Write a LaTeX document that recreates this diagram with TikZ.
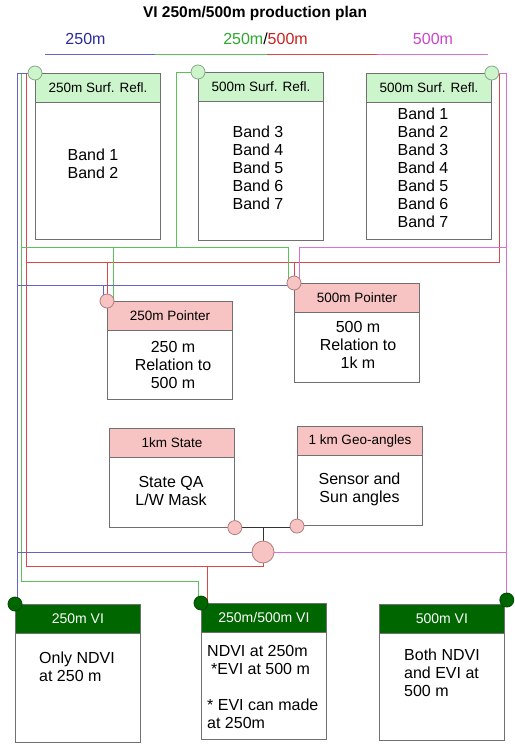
\documentclass[tikz,border=0pt]{standalone}
\usepackage{fontspec}
\setmainfont{Liberation Sans}
\usetikzlibrary{positioning}
\usetikzlibrary{backgrounds}
\definecolor{srfgreen}{HTML}{CCF5CC}
\definecolor{ptrpink}{HTML}{F8C3C3}
\definecolor{vigreen}{HTML}{006600}
\definecolor{boxgray}{HTML}{707070}
\definecolor{ringgreen}{HTML}{8AA88A}
\definecolor{ringpink}{HTML}{B07E7E}
\definecolor{tblue}{HTML}{2A2AA0}
\definecolor{tgreen}{HTML}{2EA82E}
\definecolor{tred}{HTML}{CC2020}
\definecolor{tmag}{HTML}{CC44CC}
\definecolor{lblue}{HTML}{6464C8}
\definecolor{lgreen}{HTML}{5CC05C}
\definecolor{lred}{HTML}{D84848}
\definecolor{lmag}{HTML}{D870D8}

\begin{document}
\begin{tikzpicture}[x=1pt, y=-1pt,
    hdr/.style={draw=boxgray, line width=0.8pt, anchor=north west, minimum width=125pt,
      minimum height=28.5pt, inner sep=0pt, font=\fontsize{13.5}{15}\selectfont},
    srfhdr/.style={hdr, fill=srfgreen},
    ptrhdr/.style={hdr, fill=ptrpink},
    vihdr/.style={hdr, fill=vigreen, text=white, font=\fontsize{14}{15}\selectfont},
    boxbody/.style={draw=boxgray, line width=0.8pt, minimum width=125pt, inner sep=0pt},
    bodytxt/.style={align=center, inner sep=0pt, anchor=north, font=\fontsize{16}{18}\selectfont},
    vitxt/.style={bodytxt, align=left, anchor=north west},
    legend/.style={anchor=base, inner sep=0pt, font=\fontsize{16}{18}\selectfont},
    joint/.style={circle, minimum size=14pt, inner sep=0pt, line width=0.8pt},
    srfjoint/.style={joint, fill=srfgreen, draw=ringgreen},
    ptrjoint/.style={joint, fill=ptrpink, draw=ringpink},
    vijoint/.style={joint, fill=vigreen, draw=vigreen!70!black},
    lnblue/.style={draw=lblue, line width=1pt},
    lngreen/.style={draw=lgreen, line width=1pt},
    lnred/.style={draw=lred, line width=1pt},
    lnmag/.style={draw=lmag, line width=1pt},
    lnblack/.style={draw=black!80, line width=1pt}]
      \useasboundingbox (0,0) rectangle (514,744);
      % title and legend
      \node[font=\bfseries\fontsize{15.5}{17}\selectfont, anchor=base] (title) at (255,17) {VI 250m/500m production plan};
      \node[legend, text=tblue] (lg250) at (85.5,44) {250m};
      \node[legend] (lgboth) at (265.5,44) {\textcolor{tgreen}{250m}/\textcolor{tred}{500m}};
      \node[legend, text=tmag] (lg500) at (433,44) {500m};
      \draw[lnblue] (45,54) -- (155,54);
      \draw[lngreen] (155,54) -- (267,54);
      \draw[lnred] (267,54) -- (377,54);
      \draw[lnmag] (377,54) -- (488,54);
      % surface reflectance
      \node[srfhdr] (srf1h) at (35,73) {250m Surf. Refl.};
      \node[boxbody, minimum height=137pt, below=0pt of srf1h] (srf1) {};
      \node[bodytxt] (srf1t) at (93,148.5) {Band 1\\Band 2};
      \node[srfhdr] (srf2h) at (198,72) {500m Surf. Refl.};
      \node[boxbody, minimum height=139pt, below=0pt of srf2h] (srf2) {};
      \node[bodytxt] (srf2t) at (258,125.5) {Band 3\\Band 4\\Band 5\\Band 6\\Band 7};
      \node[srfhdr] (srf3h) at (366,73) {500m Surf. Refl.};
      \node[boxbody, minimum height=137pt, below=0pt of srf3h] (srf3) {};
      \node[bodytxt] (srf3t) at (423,107.5) {Band 1\\Band 2\\Band 3\\Band 4\\Band 5\\Band 6\\Band 7};
      % pointers
      \node[ptrhdr] (ptr1h) at (107,301) {250m Pointer};
      \node[boxbody, minimum height=69pt, below=0pt of ptr1h] (ptr1) {};
      \node[bodytxt] (ptr1t) at (173,341.5) {250 m\\Relation to\\500 m};
      \node[ptrhdr] (ptr2h) at (294,283) {500m Pointer};
      \node[boxbody, minimum height=70pt, below=0pt of ptr2h] (ptr2) {};
      \node[bodytxt] (ptr2t) at (358,321.5) {500 m\\Relation to\\1k m};
      % 1 km inputs
      \node[ptrhdr] (stateh) at (109,428) {1km State};
      \node[boxbody, minimum height=69.5pt, below=0pt of stateh] (state) {};
      \node[bodytxt] (statet) at (171,476.5) {State QA\\L/W Mask};
      \node[ptrhdr] (geoh) at (297,426) {1 km Geo-angles};
      \node[boxbody, minimum height=70pt, below=0pt of geoh] (geo) {};
      \node[bodytxt] (geot) at (359.5,472.5) {Sensor and\\Sun angles};
      % VI outputs
      \node[vihdr] (vi1h) at (15,604) {250m VI};
      \node[boxbody, minimum height=109pt, below=0pt of vi1h] (vi1) {};
      \node[vitxt] (vi1t) at (39,651.5) {Only NDVI\\at 250 m};
      \node[vihdr] (vi2h) at (201,603) {250m/500m VI};
      \node[boxbody, minimum height=107pt, below=0pt of vi2h] (vi2) {};
      \node[vitxt] (vi2t) at (207,645.5) {NDVI at 250m\\\hspace*{4pt}*EVI at 500 m\\[18pt]* EVI can made\\at 250m};
      \node[vihdr] (vi3h) at (379,604) {500m VI};
      \node[boxbody, minimum height=107pt, below=0pt of vi3h] (vi3) {};
      \node[vitxt] (vi3t) at (404,648.5) {Both NDVI\\and EVI at\\500 m};
      % joints
      \node[srfjoint] (c1) at (srf1h.north west) {};
      \node[srfjoint] (c2) at (srf2h.north west) {};
      \node[srfjoint] (c3) at (srf3h.north east) {};
      \node[ptrjoint] (p1) at (ptr1h.north west) {};
      \node[ptrjoint] (p2) at (ptr2h.north west) {};
      \node[ptrjoint] (s1) at (state.south east) {};
      \node[ptrjoint] (g1) at (geo.south west) {};
      \node[ptrjoint, minimum size=22pt] (hub) at (263,552) {};
      \node[vijoint] (v1) at (vi1h.north west) {};
      \node[vijoint] (v2) at (vi2h.north west) {};
      \node[vijoint] (v3) at ([shift={(2,-4)}]vi3h.north east) {};
      % trunks
      \coordinate (bx) at (17,0);
      \coordinate (gx) at (21,0);
      \coordinate (rx) at (26,0);
      \coordinate (gx2) at (176,0);
      \coordinate (rx2) at (499,0);
      \coordinate (mx) at (506,0);
      \coordinate (grow) at (0,247);
      \coordinate (rrow) at (0,262);
      \coordinate (brow) at (0,285);
      \coordinate (rlow) at (0,566);
      \coordinate (glow) at (0,581);
      \begin{scope}[on background layer]
        % 500m part of 250m/500m
        \draw[lnred] (c3) -| (rx2 |- rrow) -- (rx |- rrow) -- (rx |- rlow) -| (hub);
        \draw[lnred] (c1) -| (rx |- rrow);
        \draw[lnred] (p1) -- (p1 |- rrow);
        \draw[lnred] (p2) -- (p2 |- rrow);
        \draw[lnred] ([xshift=6pt]v2.center) -- ([xshift=6pt]v2.center |- rlow);
        % 250m part of 250m/500m
        \draw[lngreen] (c1) -| (gx |- glow) -| ([xshift=-3pt]v2.center);
        \draw[lngreen] (gx |- grow) -| ([xshift=-6pt]p2.center);
        \draw[lngreen] ([xshift=6pt]p1.center) -- ([xshift=6pt]p1.center |- grow);
        \draw[lngreen] (c2) -| (gx2 |- grow);
        % 250m
        \draw[lnblue] (c1) -| (bx |- v1);
        \draw[lnblue] (bx |- brow) -- (brow -| p2);
        \draw[lnblue] ([xshift=-4pt]p1.center) -- ([xshift=-4pt]p1.center |- brow);
        \draw[lnblue] (bx |- hub) -- (hub);
        % 500m
        \draw[lnmag] (c3) -| (mx |- v3);
        \draw[lnmag] (mx |- grow) -| ([xshift=5pt]p2.center);
        \draw[lnmag] (hub) -- (mx |- hub);
        % 1 km inputs
        \draw[lnblack] (s1) -- (s1 -| g1);
        \draw[lnblack] (hub) -- (hub |- s1);
      \end{scope}
    \end{tikzpicture}
\end{document}
